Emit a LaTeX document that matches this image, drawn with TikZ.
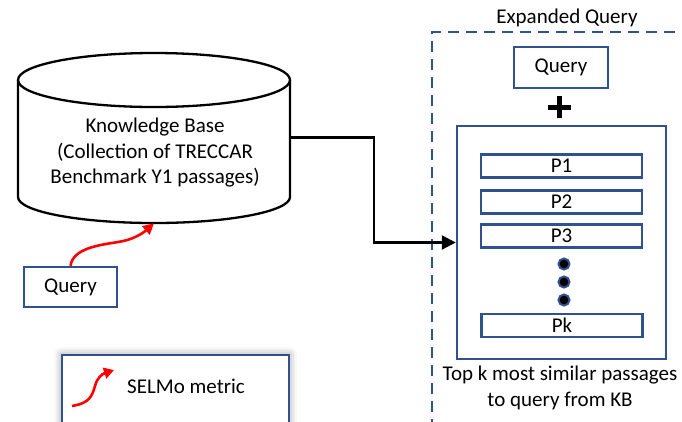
\documentclass[tikz,border=0pt]{standalone}
\usepackage{fontspec}
\setmainfont{Carlito}
\usetikzlibrary{arrows.meta,shadows.blur}
\definecolor{frameblue}{RGB}{47,82,143}
\definecolor{arrowred}{RGB}{255,0,0}
\begin{document}
\begin{tikzpicture}[x=1pt,y=-1pt,
  every node/.style={font=\fontsize{21}{25.5}\selectfont, inner sep=0pt},
  bluebox/.style={draw=frameblue, line width=2.5pt, fill=white},
  redlink/.style={draw=arrowred, line width=2.6pt, -{Triangle[length=11pt,width=11pt]}},
  flow/.style={draw=black, line width=2.3pt, -{Triangle[length=14pt,width=14pt]}},
  passage/.style={bluebox, minimum width=161pt, minimum height=23pt},
  dot/.style={circle, draw=frameblue, fill=black, line width=2pt, minimum size=11pt}
]
\useasboundingbox (0,0) rectangle (682,421);

% knowledge base cylinder
\draw[line width=2.3pt] (18,80) -- (18,197)
  arc[start angle=180, end angle=0, x radius=136, y radius=26] -- (290,80);
\draw[line width=2.3pt] (154,80) ellipse [x radius=136, y radius=27];
\node[minimum width=272pt, minimum height=171pt] (kb) at (154,137.5) {};
\node[align=center] (kbtext) at (155,153)
  {Knowledge Base\\(Collection of TRECCAR\\Benchmark Y1 passages)};

% query fed into the knowledge base
\node[bluebox, minimum width=93pt, minimum height=40pt] (q) at (70.5,287) {\raisebox{-1pt}{Query}};
\draw[redlink] (q.north) .. controls (73,248) and (100,245) .. (118,242)
  .. controls (132,240) and (142,234) .. (kb.south);

% legend
\node[bluebox, line width=2.3pt,
  blur shadow={shadow xshift=0pt, shadow yshift=0pt, shadow blur radius=8pt, shadow opacity=45},
  minimum width=227pt, minimum height=90pt] (legend) at (175.5,400) {};
\coordinate (ls) at (72,406);
\coordinate (le) at (114,370);
\draw[redlink, -{Triangle[length=10pt,width=11pt]}] (ls) .. controls (90,403) and (92,396) .. (95,386)
  .. controls (97,378) and (102,374) .. (le);
\node[anchor=west] (legtext) at (127,386) {SELMo metric};

% expanded query frame
\node (eqtitle) at (567,18) {Expanded Query};
\draw[frameblue, line width=2.3pt, dash pattern=on 11pt off 7pt] (432,430) -- (432,32) -- (690,32);

\node[bluebox, minimum width=94pt, minimum height=41pt] (q2) at (561,67.5) {Query};
\draw[line width=5pt] (548,107) -- (571,107) (559.5,96) -- (559.5,118);

% retrieved passages
\node[bluebox, minimum width=209pt, minimum height=233pt] (big) at (561.5,242.5) {};
\node[passage] (p1) at (561.5,166) {P1};
\node[passage] (p2) at (561.5,202) {P2};
\node[passage] (p3) at (561.5,236) {P3};
\node[dot] (d1) at (564,264) {};
\node[dot] (d2) at (564,282) {};
\node[dot] (d3) at (564,300) {};
\node[passage] (pk) at (562,325.5) {Pk};
\node[align=center] (cap) at (560,388) {Top k most similar passages\\to query from KB};

% knowledge base to passages
\draw[flow] (kb.east) -- ++(84,0) |- (big.west);
\end{tikzpicture}
\end{document}
